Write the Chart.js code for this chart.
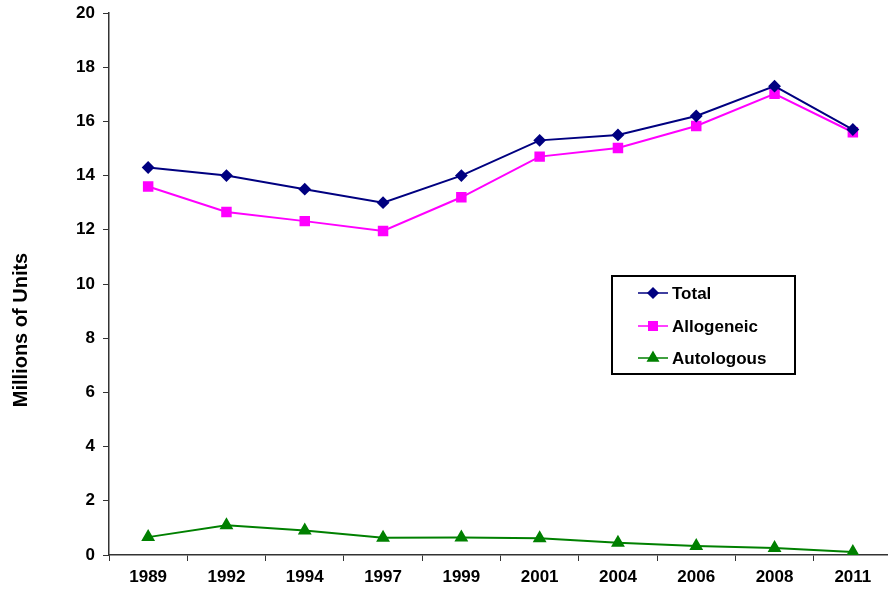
<!DOCTYPE html>
<html>
<head>
<meta charset="utf-8">
<script src="https://cdn.jsdelivr.net/npm/chart.js@4.4.0/dist/chart.umd.min.js"></script>
<style>
  html, body { margin: 0; padding: 0; background: #fff; overflow: hidden; }
  #wrap { width: 900px; height: 589px; position: relative; }
</style>
</head>
<body>
<div id="wrap"><canvas id="myChart"></canvas></div>
<script>
var years = ['1989', '1992', '1994', '1997', '1999', '2001', '2004', '2006', '2008', '2011'];
var total = [14.3, 14.0, 13.5, 13.0, 14.0, 15.3, 15.5, 16.2, 17.3, 15.7];
var allogeneic = [13.6, 12.66, 12.32, 11.96, 13.2, 14.7, 15.02, 15.83, 17.02, 15.6];
var autologous = [0.66, 1.1, 0.9, 0.64, 0.65, 0.62, 0.45, 0.33, 0.26, 0.11];

var font = 'Liberation Sans, Arial, sans-serif';

// legend drawn as a boxed panel inside the plot area, plus the y title
var boxLegend = {
    id: 'boxLegend',
    afterDraw: function(chart) {
        var ctx = chart.ctx;
        var x = 612, y = 276, w = 183, h = 98;
        ctx.save();
        ctx.strokeStyle = '#000';
        ctx.lineWidth = 2;
        ctx.strokeRect(x, y, w, h);
        var rows = [293, 326, 358];
        chart.data.datasets.forEach(function(ds, i) {
            var ly = rows[i];
            ctx.strokeStyle = ds.borderColor;
            ctx.lineWidth = 1.5;
            ctx.beginPath();
            ctx.moveTo(638, ly);
            ctx.lineTo(668, ly);
            ctx.stroke();
            Chart.helpers.drawPoint(ctx, {
                pointStyle: ds.pointStyle,
                radius: ds.pointRadius,
                borderWidth: 1
            }, 653, ly);
            ctx.fillStyle = ds.borderColor;
            ctx.fill();
            ctx.fillStyle = '#000';
            ctx.font = 'bold 17px ' + font;
            ctx.textBaseline = 'middle';
            ctx.fillText(ds.label, 672, ly + 1);
        });

        ctx.translate(21, 330);
        ctx.rotate(-Math.PI / 2);
        ctx.font = 'bold 20px ' + font;
        ctx.textAlign = 'center';
        ctx.textBaseline = 'middle';
        ctx.fillStyle = '#000';
        ctx.fillText('Millions of Units', 0, 0);
        ctx.restore();
    }
};

var ctx = document.getElementById('myChart').getContext('2d');
var myChart = new Chart(ctx, {
    type: 'line',
    data: {
        labels: years,
        datasets: [{
            label: 'Total',
            data: total,
            borderColor: '#000080',
            backgroundColor: '#000080',
            borderWidth: 2,
            pointStyle: 'rectRot',
            pointRadius: 5,
            tension: 0
        }, {
            label: 'Allogeneic',
            data: allogeneic,
            borderColor: '#FF00FF',
            backgroundColor: '#FF00FF',
            borderWidth: 2,
            pointStyle: 'rect',
            pointRadius: 6,
            tension: 0
        }, {
            label: 'Autologous',
            data: autologous,
            borderColor: '#008000',
            backgroundColor: '#008000',
            borderWidth: 2,
            pointStyle: 'triangle',
            pointRadius: 6,
            tension: 0
        }]
    },
    options: {
        responsive: true,
        maintainAspectRatio: false,
        animation: false,
        layout: { padding: { top: 13, right: 0, left: 0, bottom: 0 } },
        plugins: {
            legend: { display: false },
            tooltip: { enabled: false }
        },
        scales: {
            x: {
                offset: true,
                grid: { drawOnChartArea: false, offset: true, tickLength: 6, color: '#333' },
                border: { color: '#333', width: 1.5 },
                ticks: { color: '#000', font: { family: font, weight: 'bold', size: 17 }, padding: 6, maxRotation: 0 },
                afterFit: function(s) { s.height = 34; s.paddingLeft = 0; s.paddingRight = 0; }
            },
            y: {
                min: 0,
                max: 20,
                grid: { drawOnChartArea: false, tickLength: 6, color: '#333' },
                border: { color: '#333', width: 1.5 },
                ticks: { stepSize: 2, color: '#000', font: { family: font, weight: 'bold', size: 17 }, padding: 8 },
                afterFit: function(s) { s.width = 109; s.paddingTop = 0; s.paddingBottom = 0; }
            }
        }
    },
    plugins: [boxLegend]
});
</script>
</body>
</html>
